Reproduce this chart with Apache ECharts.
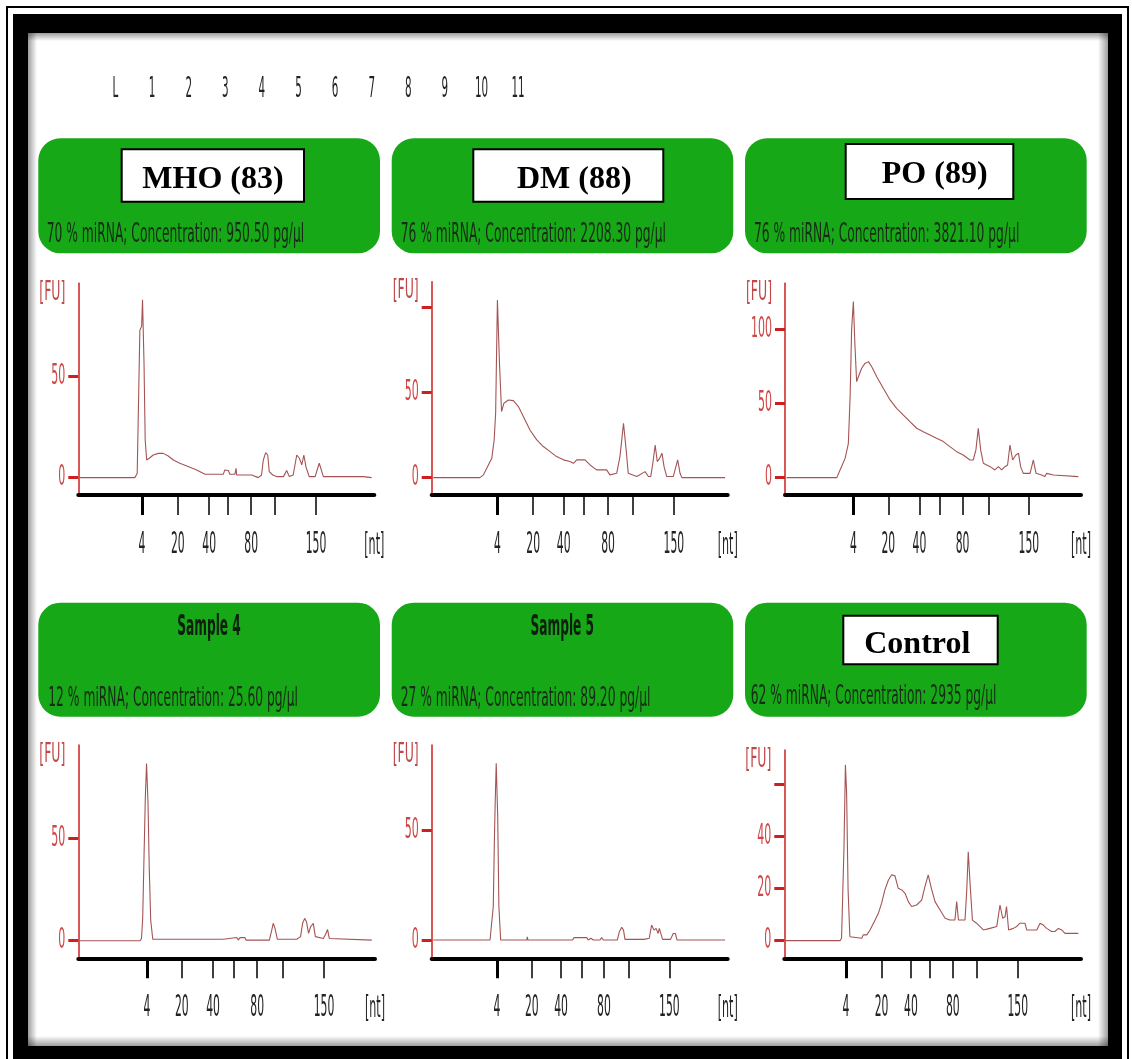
<!DOCTYPE html>
<html><head><meta charset="utf-8">
<script src="https://cdn.jsdelivr.net/npm/echarts@6/dist/echarts.min.js"></script>
<style>html,body{margin:0;padding:0;background:#fff}#c{width:1132px;height:1059px}</style>
</head><body><div id="c"></div>
<script>
// ---------------- DATA ----------------
const laneLabels = ['L','1','2','3','4','5','6','7','8','9','10','11'];
const panelTitles = ['MHO (83)','DM (88)','PO (89)','Sample 4','Sample 5','Control'];
const panelSubtitles = [
  '70 % miRNA; Concentration: 950.50 pg/\u00b5l',
  '76 % miRNA; Concentration: 2208.30 pg/\u00b5l',
  '76 % miRNA; Concentration: 3821.10 pg/\u00b5l',
  '12 % miRNA; Concentration: 25.60 pg/\u00b5l',
  '27 % miRNA; Concentration: 89.20 pg/\u00b5l',
  '62 % miRNA; Concentration: 2935 pg/\u00b5l'
];
const xTickLabels = ['4','20','40','','80','','150'];
const xUnitLabel = '[nt]';
const yUnitLabel = '[FU]';

// tick positions on the migration axis (0-100) for each panel
const mhoTicks  = [21.5,33.6,44.2,50.6,58.4,66.3,80.3];
const dmTicks   = [22.2,34.3,44.6,51.5,59.6,68.0,81.8];
const poTicks   = [23.1,34.9,45.4,52.4,60.0,68.7,82.4];
const s4Ticks   = [23.1,34.9,45.4,52.4,60.3,68.9,82.8];
const s5Ticks   = [22.0,33.8,43.7,50.7,58.2,66.5,80.3];
const ctrlTicks = [20.8,32.8,42.7,48.9,56.8,64.9,78.7];

// y ticks and labelled y ticks
const mhoYTicks = [0,50],        mhoYLabels = [0,50];
const dmYTicks  = [0,50,100],    dmYLabels  = [0,50];
const poYTicks  = [0,50,100],    poYLabels  = [0,50,100];
const s4YTicks  = [0,50],        s4YLabels  = [0,50];
const s5YTicks  = [0,50],        s5YLabels  = [0,50];
const ctrlYTicks = [0,20,40,60], ctrlYLabels = [0,20,40];

// electropherogram traces [position, FU]
const mhoTrace = [[0.5,0],[19.1,0],[19.9,2],[20.8,73],[21.4,75],[21.7,88],[22.2,57],[22.6,18.6],[23.1,8.7],[24.0,9.6],[25.3,11.2],[27.0,12],[28.7,12],[30.4,10.7],[32.1,8.7],[34.3,7.1],[37.7,5.1],[40.0,3.8],[42.8,1.7],[49.0,1.7],[49.5,3.8],[50.7,3.5],[51.2,1.7],[52.9,1.7],[53.3,4.6],[53.5,1.3],[58.6,1.3],[60.8,0],[61.9,1.3],[62.5,8.7],[63.3,12.4],[64.0,11.2],[64.5,3],[65.7,1.3],[67.0,0.5],[69.3,0.5],[70.4,3.5],[71.3,0.5],[72.6,1.3],[73.8,11.2],[74.7,9.6],[75.5,6.3],[76.2,11.2],[76.9,5.4],[78.0,0.5],[80.0,0.5],[81.4,7.1],[82.8,0.5],[96.3,0.5],[96.6,1.3],[96.8,0],[99.1,0]];
const dmTrace = [[0.5,0],[16.3,0],[17.5,1.6],[18.6,5.5],[20.3,11.3],[21.1,22],[21.6,37.7],[22.2,104],[22.9,67],[23.6,38.7],[24.4,43.6],[25.9,45.5],[27.6,45.1],[29.3,41.6],[31.0,35.7],[33.2,27.9],[35.5,22.1],[37.7,18.2],[40.0,15.2],[42.2,12.3],[44.5,10.4],[46.7,9.4],[47.9,8.4],[49.0,10.4],[51.8,10.4],[53.5,7.4],[55.7,4.5],[59.1,4.5],[60.2,1.6],[62.5,2.5],[63.6,12.3],[64.8,31.8],[65.7,16.2],[66.4,2.5],[69.3,0.6],[72.1,3.5],[73.2,0.6],[74.0,0.6],[74.7,8.4],[75.5,19.1],[76.2,9.4],[77.0,11.3],[77.8,14.3],[78.5,6.4],[79.4,0.6],[81.6,0.6],[83.1,10.4],[83.9,2.5],[84.5,0],[99.1,0]];
const poTrace = [[0.5,0],[17.5,0],[18.6,5.2],[20.3,13],[21.4,23],[22.0,54.6],[22.5,99.6],[23.1,118.7],[23.6,90.6],[24.2,64.7],[24.8,68],[25.9,73.7],[27.0,77],[28.2,78.2],[29.3,74.8],[31.0,68],[33.2,60.2],[35.5,52.4],[37.7,46.7],[40.0,42.2],[42.2,37.8],[44.5,33.3],[46.7,31],[49.0,28.8],[51.2,26.5],[53.5,24.3],[55.7,20.9],[58.0,17.5],[60.2,15.3],[62.5,11.9],[63.6,11.9],[64.5,18.7],[65.3,33.3],[66.1,18.7],[67.0,9.7],[69.3,7.4],[70.9,5.2],[72.1,7.4],[73.2,5.2],[74.3,7.4],[75.2,8.5],[76.0,22],[76.9,11.9],[78.0,15.3],[78.9,16.4],[79.6,7.4],[80.5,2.9],[82.8,2.9],[83.9,11.9],[84.8,2.9],[86.7,1.8],[87.8,0.7],[88.4,2.9],[90.7,1.8],[91.2,0.7],[99.1,0.7]];
const s4Trace = [[0.5,0],[20.8,0],[21.3,1.1],[21.7,10.9],[22.1,37.8],[22.6,70.4],[23.0,86.6],[23.5,67.1],[23.9,36.2],[24.4,10.1],[25.1,0.7],[48.9,0.7],[49.4,1.6],[53.4,1.6],[53.9,0.3],[54.5,1.5],[56.2,1.5],[56.5,0.3],[64.4,0.3],[65.2,5.2],[65.7,8.5],[66.3,6],[67.1,0.7],[72.5,0.7],[73.0,1.6],[73.6,0.7],[74.9,2],[75.6,8.5],[76.3,10.9],[76.9,9.3],[77.6,3.6],[78.3,6.8],[79.2,8.5],[79.9,2],[82.6,1.1],[83.5,3.6],[84.0,5.5],[84.6,1.1],[85.2,0.3],[98.9,0.3]];
const s5Trace = [[0.5,0.3],[19.7,0.3],[20.3,1.1],[20.8,15.5],[21.2,47.3],[21.5,65.5],[21.8,80.6],[22.3,56.4],[22.7,15.5],[23.3,0.3],[32.1,0.3],[32.3,1.8],[32.5,0.3],[47.6,0.3],[48.1,1.4],[52.4,1.4],[52.9,0.3],[53.8,1.1],[54.6,0.3],[56.9,0.3],[57.4,1.4],[58.0,0.3],[62.7,0.3],[63.4,4.1],[64.2,6.1],[64.8,4.8],[65.3,0.6],[70.4,0.6],[70.9,1.4],[71.7,0.6],[73.5,1.1],[74.3,7.1],[75.1,4.8],[75.8,5.6],[76.5,3.3],[76.9,5.6],[77.5,5.1],[78.0,0.6],[80.7,0.6],[81.6,3.3],[82.3,3.3],[82.9,0.3],[99.1,0.3]];
const ctrlTrace = [[0.5,0],[18.8,0],[19.3,0.9],[19.7,18.2],[20.1,34.9],[20.6,67.6],[21.0,56.7],[21.5,19.5],[22.1,1.5],[22.7,0.9],[26.1,0.9],[26.6,2.2],[27.8,2.2],[28.9,4.1],[30.6,7.9],[31.7,10.5],[32.8,14.4],[33.9,19.5],[35.1,23.3],[36.2,25.3],[37.3,24.9],[38.4,20.1],[39.6,19.5],[40.7,18.2],[41.8,15],[42.9,13.1],[44.6,13.7],[46.3,15.6],[47.4,20.8],[48.5,25.3],[49.7,19.5],[50.8,15],[52.5,11.8],[54.2,8.6],[55.8,7.9],[57.5,7.9],[58.1,15],[58.7,7.9],[60.9,7.9],[61.5,19.5],[62.0,34.2],[62.6,22.1],[63.4,7.9],[64.8,6.7],[67.1,4.1],[69.3,4.7],[71.6,5.4],[72.7,13.7],[73.6,8.6],[74.4,9.2],[74.9,13.1],[75.6,4.1],[77.2,4.7],[78.3,5.4],[79.4,6.7],[81.1,6.7],[81.7,4.1],[85.1,4.1],[86.2,6.7],[87.3,6.0],[88.4,4.7],[90.1,3.5],[91.2,3.5],[92.4,4.7],[93.5,4.1],[94.6,2.8],[99.1,2.8]];

// ---------------- LAYOUT ----------------
const traces = [mhoTrace, dmTrace, poTrace, s4Trace, s5Trace, ctrlTrace];
const xTicks = [mhoTicks, dmTicks, poTicks, s4Ticks, s5Ticks, ctrlTicks];
const yTicks = [mhoYTicks, dmYTicks, poYTicks, s4YTicks, s5YTicks, ctrlYTicks];
const yLabels = [mhoYLabels, dmYLabels, poYLabels, s4YLabels, s5YLabels, ctrlYLabels];
const layout = [
  {grid:[78.3,283.3,296,211.7], yr:[-8.6,96.2],  head:[38.3,138.3,341.7,115], sub:[46.7,235], box:[121.7,149.3,182.3,52.4], tc:[213,179.5]},
  {grid:[431.7,281.7,296,213.3],yr:[-10.2,114.8],head:[391.7,138.3,341.6,115],sub:[400.7,235], box:[473.3,149.3,190,52.4], tc:[574.3,180]},
  {grid:[785,283.3,296,211.7],  yr:[-11.7,131],  head:[745,138.3,341.7,115],  sub:[754,235],   box:[845.7,144,167.6,55],   tc:[934.7,175]},
  {grid:[78.3,745,296.7,213.3], yr:[-8.6,95.6],  head:[38.3,602.7,341.7,114], sub:[48.3,699],  box:null, tc:[209,627]},
  {grid:[431.7,745,296,213.3],  yr:[-8,88.9],    head:[391.7,602.7,341.6,114],sub:[400.7,699], box:null, tc:[562.3,627]},
  {grid:[784.3,750,296.7,208.3],yr:[-6.8,73.3],  head:[745,602.7,341.7,114],  sub:[750.7,697], box:[843.3,615.7,154.4,48.6], tc:[917.3,645]}
];
const RED = '#cc1f1f', TRACE = '#a45454', GREEN = '#17a817';
const SQ = '"DejaVu Sans", sans-serif';

const grids = [], xAxes = [], yAxes = [], series = [];
layout.forEach((L, i) => {
  grids.push({left:L.grid[0], top:L.grid[1], width:L.grid[2], height:L.grid[3], outerBoundsMode:'none', containLabel:false});
  xAxes.push({type:'value', gridIndex:i, min:0, max:100, position:'bottom',
    axisLine:{show:true, onZero:false, lineStyle:{color:'#000', width:4}},
    axisTick:{show:true, customValues:xTicks[i].slice(1), length:20, lineStyle:{color:'#000', width:1.5}},
    axisLabel:{show:false}, splitLine:{show:false}});
  yAxes.push({type:'value', gridIndex:i, min:L.yr[0], max:L.yr[1],
    axisLine:{show:true, onZero:false, lineStyle:{color:RED, width:1.5}},
    axisTick:{show:true, customValues:yTicks[i], length:10, lineStyle:{color:RED, width:3}},
    axisLabel:{show:false}, splitLine:{show:false}});
  series.push({type:'line', xAxisIndex:i, yAxisIndex:i, data:traces[i], showSymbol:false, symbol:'none',
    lineStyle:{color:TRACE, width:1.1}, animation:false, silent:true, z:3});
});
// second x axis per grid carrying the thicker first (4 nt) tick
layout.forEach((L, i) => {
  xAxes.push({type:'value', gridIndex:i, min:0, max:100, position:'bottom',
    axisLine:{show:false, onZero:false},
    axisTick:{show:true, customValues:[xTicks[i][0]], length:20, lineStyle:{color:'#000', width:3}},
    axisLabel:{show:false}, splitLine:{show:false}});
});

const chart = echarts.init(document.getElementById('c'));
chart.setOption({animation:false, backgroundColor:'#fff', grid:grids, xAxis:xAxes, yAxis:yAxes, series:series});

function txt(text, x, y, font, fill, align, valign, sx) {
  return {type:'text', x:x, y:y, scaleX:sx || 1, silent:true, z:10,
    style:{text:text, font:font, fill:fill, textAlign:align, textVerticalAlign:valign, align:align, verticalAlign:valign}};
}
function grad(x, y, x2, y2) {
  return {type:'linear', x:x, y:y, x2:x2, y2:y2, colorStops:[{offset:0,color:'rgba(0,0,0,0.38)'},{offset:1,color:'rgba(0,0,0,0)'}]};
}

const g = [];
// frame
g.push({type:'rect', shape:{x:7,y:7,width:1121,height:1070}, style:{fill:'none', stroke:'#000', lineWidth:2}, z:20, silent:true});
g.push({type:'rect', shape:{x:13,y:14,width:1109,height:19}, style:{fill:'#000'}, z:20, silent:true});
g.push({type:'rect', shape:{x:13,y:14,width:15,height:1050}, style:{fill:'#000'}, z:20, silent:true});
g.push({type:'rect', shape:{x:1108,y:14,width:14,height:1050}, style:{fill:'#000'}, z:20, silent:true});
g.push({type:'rect', shape:{x:13,y:1046,width:1109,height:20}, style:{fill:'#000'}, z:20, silent:true});
// inner shadow
g.push({type:'rect', shape:{x:28,y:33,width:9,height:1013}, style:{fill:grad(0,0,1,0)}, z:19, silent:true});
g.push({type:'rect', shape:{x:28,y:33,width:1080,height:8}, style:{fill:grad(0,0,0,1)}, z:19, silent:true});
g.push({type:'rect', shape:{x:1098,y:33,width:10,height:1013}, style:{fill:grad(1,0,0,0)}, z:19, silent:true});
g.push({type:'rect', shape:{x:28,y:1036,width:1080,height:10}, style:{fill:grad(0,1,0,0)}, z:19, silent:true});

// lane labels
laneLabels.forEach((s, k) => g.push(txt(s, 115.5 + k * 36.6, 90, '28px ' + SQ, '#222', 'center', 'middle', 0.37)));

layout.forEach((L, i) => {
  // header
  g.push({type:'rect', shape:{x:L.head[0], y:L.head[1], width:L.head[2], height:L.head[3], r:22}, style:{fill:GREEN}, z:1, silent:true});
  if (L.box) {
    g.push({type:'rect', shape:{x:L.box[0], y:L.box[1], width:L.box[2], height:L.box[3]}, style:{fill:'#fff', stroke:'#000', lineWidth:2}, z:5, silent:true});
    g.push(txt(panelTitles[i], L.tc[0], L.tc[1], 'bold 32px "Liberation Serif", "Times New Roman", serif', '#000', 'center', 'middle', 1));
  } else {
    g.push(txt(panelTitles[i], L.tc[0], L.tc[1], 'bold 29px ' + SQ, '#0f1f0f', 'center', 'middle', 0.42));
  }
  g.push(txt(panelSubtitles[i], L.sub[0], L.sub[1], '27px ' + SQ, '#172a17', 'left', 'middle', 0.455));

  // axis labels computed through the axes' own scales
  const bottom = chart.convertToPixel({yAxisIndex:i}, L.yr[0]);
  const top = chart.convertToPixel({yAxisIndex:i}, L.yr[1]);
  const left = chart.convertToPixel({xAxisIndex:i}, 0);
  const right = chart.convertToPixel({xAxisIndex:i}, 100);
  xTicks[i].forEach((v, k) => {
    if (!xTickLabels[k]) return;
    g.push(txt(xTickLabels[k], chart.convertToPixel({xAxisIndex:i}, v), bottom + 50, '30px ' + SQ, '#222', 'center', 'middle', 0.36));
  });
  g.push(txt(xUnitLabel, right, bottom + 51, '30px ' + SQ, '#222', 'center', 'middle', 0.37));
  yLabels[i].forEach(v => {
    g.push(txt(String(v), left - 13, chart.convertToPixel({yAxisIndex:i}, v), '29px ' + SQ, '#d04545', 'right', 'middle', 0.38));
  });
  g.push(txt(yUnitLabel, left - 26, top + 10, '26px ' + SQ, '#c04848', 'center', 'middle', 0.48));
});

chart.setOption({graphic:{elements:g}});
</script>
</body></html>
